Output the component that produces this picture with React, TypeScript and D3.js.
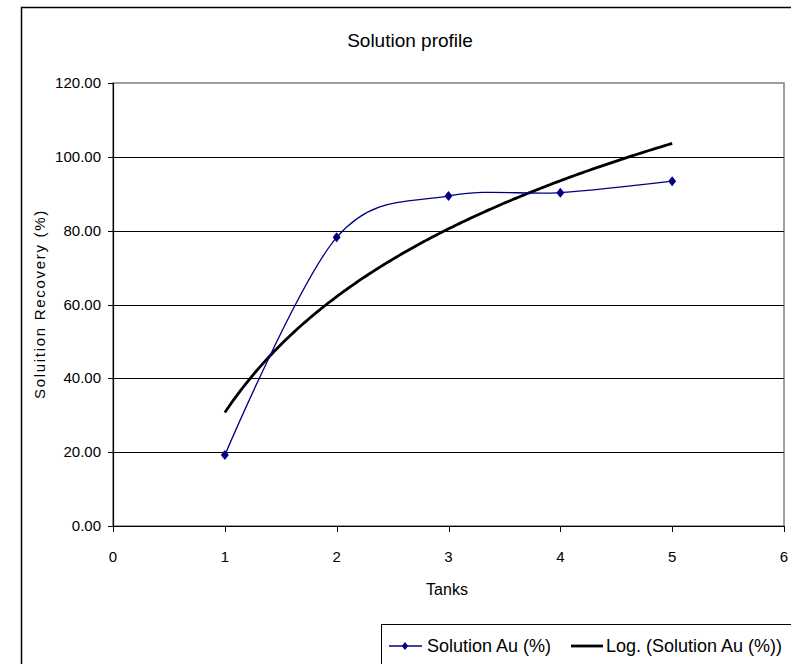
import React from "react";
import * as d3 from "d3";

const tanks = [1, 2, 3, 4, 5];
const solutionAu = [19.2, 78.2, 89.4, 90.3, 93.4];
const xTicks = [0, 1, 2, 3, 4, 5, 6];
const yTicks = [0, 20, 40, 60, 80, 100, 120];
const title = "Solution profile";
const xTitle = "Tanks";
const yTitle = "Soluition Recovery (%)";
const legendLabels = ["Solution Au (%)", "Log. (Solution Au (%))"];

const W = 791;
const H = 664;
const plot = { left: 113, right: 784, top: 83, bottom: 526 };
const FONT = "'Liberation Sans', Arial, sans-serif";

// Logarithmic regression (Excel trendline)
function logFit(xs: number[], ys: number[]) {
  const lx = xs.map((v) => Math.log(v));
  const mx = d3.mean(lx) as number;
  const my = d3.mean(ys) as number;
  let sxy = 0;
  let sxx = 0;
  lx.forEach((v, i) => {
    sxy += (v - mx) * (ys[i] - my);
    sxx += (v - mx) * (v - mx);
  });
  const a = sxy / sxx;
  const b = my - a * mx;
  return (x: number) => a * Math.log(x) + b;
}

export default function App() {
  const x = d3.scaleLinear().domain([0, 6]).range([plot.left, plot.right]);
  const y = d3.scaleLinear().domain([0, 120]).range([plot.bottom, plot.top]);

  const pts = tanks.map((t, i) => [t, solutionAu[i]] as [number, number]);
  const line = d3
    .line<[number, number]>()
    .x((d) => x(d[0]))
    .y((d) => y(d[1]))
    .curve(d3.curveCardinal.tension(0));

  const fit = logFit(tanks, solutionAu);
  const trendPts = d3.range(0, 201).map((i) => {
    const t = 1 + (i / 200) * 4;
    return [t, fit(t)] as [number, number];
  });
  const trend = d3
    .line<[number, number]>()
    .x((d) => x(d[0]))
    .y((d) => y(d[1]));

  const diamond = (cx: number, cy: number, r: number) =>
    `M${cx},${cy - r}L${cx + r * 0.8},${cy}L${cx},${cy + r}L${cx - r * 0.8},${cy}Z`;

  const legX = 381;
  const legY = 624;

  return (
    <svg
      width={W}
      height={H}
      style={{ position: "absolute", left: 0, top: 0, background: "#fff" }}
      fontFamily={FONT}
    >
      <rect x={0} y={0} width={W} height={H} fill="#fff" />
      {/* chart area border */}
      <rect x={21.5} y={7.5} width={1000} height={1000} fill="none" stroke="#000" strokeWidth={1.5} />

      {/* title */}
      <text x={410} y={47} textAnchor="middle" fontSize={19} fill="#000">
        {title}
      </text>

      {/* plot area border */}
      <rect
        x={plot.left}
        y={plot.top}
        width={plot.right - plot.left}
        height={plot.bottom - plot.top}
        fill="none"
        stroke="#808080"
        strokeWidth={1.5}
      />

      {/* gridlines */}
      {yTicks
        .filter((t) => t > 0 && t < 120)
        .map((t) => (
          <line
            key={"g" + t}
            x1={plot.left}
            x2={plot.right}
            y1={Math.round(y(t)) + 0.5}
            y2={Math.round(y(t)) + 0.5}
            stroke="#000"
            strokeWidth={1}
          />
        ))}

      {/* y axis */}
      <line x1={plot.left + 0.5} x2={plot.left + 0.5} y1={plot.top} y2={plot.bottom} stroke="#000" strokeWidth={1.2} />
      {yTicks.map((t) => (
        <g key={"y" + t}>
          <line
            x1={plot.left - 5}
            x2={plot.left}
            y1={Math.round(y(t)) + 0.5}
            y2={Math.round(y(t)) + 0.5}
            stroke="#000"
          />
          <text x={plot.left - 12} y={y(t) + 5} textAnchor="end" fontSize={15} fill="#000">
            {t.toFixed(2)}
          </text>
        </g>
      ))}

      {/* x axis */}
      <line x1={plot.left} x2={plot.right} y1={plot.bottom + 0.5} y2={plot.bottom + 0.5} stroke="#000" strokeWidth={1.2} />
      {xTicks.map((t) => (
        <g key={"x" + t}>
          <line
            x1={Math.round(x(t)) + 0.5}
            x2={Math.round(x(t)) + 0.5}
            y1={plot.bottom}
            y2={plot.bottom + 6}
            stroke="#000"
          />
          <text x={x(t)} y={562} textAnchor="middle" fontSize={15} fill="#000">
            {t}
          </text>
        </g>
      ))}

      {/* axis titles */}
      <text x={447} y={595} textAnchor="middle" fontSize={16} fill="#000">
        {xTitle}
      </text>
      <text
        transform={`translate(45,304) rotate(-90)`}
        textAnchor="middle"
        fontSize={15}
        letterSpacing={1.7}
        fill="#000"
      >
        {yTitle}
      </text>

      {/* trendline */}
      <path d={trend(trendPts) || ""} fill="none" stroke="#000" strokeWidth={2.8} />

      {/* series */}
      <path d={line(pts) || ""} fill="none" stroke="#000080" strokeWidth={1.3} />
      {pts.map((p, i) => (
        <path key={"m" + i} d={diamond(x(p[0]), y(p[1]), 5)} fill="#000080" />
      ))}

      {/* legend */}
      <rect x={legX + 0.5} y={legY + 0.5} width={600} height={100} fill="#fff" stroke="#000" strokeWidth={1} />
      <line x1={389} x2={422} y1={646} y2={646} stroke="#000080" strokeWidth={1.3} />
      <path d={diamond(405, 646, 4)} fill="#000080" />
      <text x={427} y={652} fontSize={18} fill="#000">
        {legendLabels[0]}
      </text>
      <line x1={571} x2={603} y1={646} y2={646} stroke="#000" strokeWidth={2.8} />
      <text x={606} y={652} fontSize={18} fill="#000">
        {legendLabels[1]}
      </text>
    </svg>
  );
}
